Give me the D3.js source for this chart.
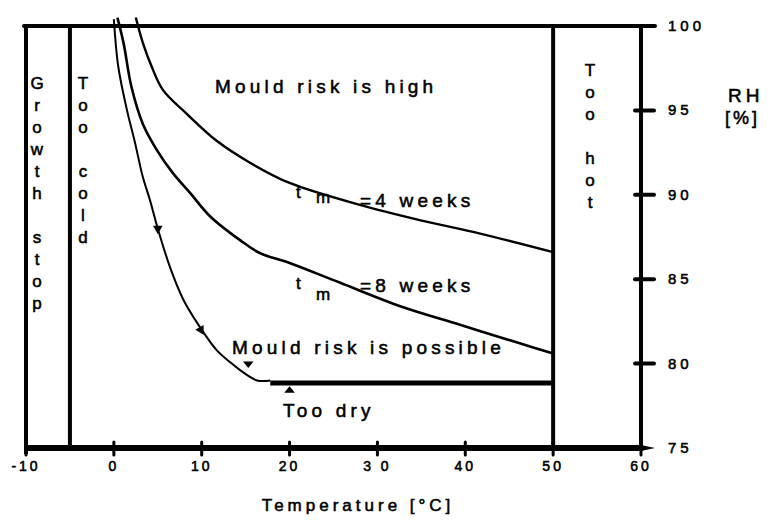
<!DOCTYPE html>
<html>
<head>
<meta charset="utf-8">
<script src="https://cdn.jsdelivr.net/npm/d3@7"></script>
<style>
  body { margin: 0; background: #fff; }
  svg text { font-family: "Liberation Sans", Arial, sans-serif; fill: #000; stroke: #000; stroke-width: 0.55px; }
</style>
</head>
<body>
<div id="chart"></div>
<script>
// isopleth curves, temperature [°C] vs RH [%]
const temp4w = [2.5, 3.3, 4.3, 5.6, 8.3, 11.7, 15.5, 20.0, 28.0, 34.8, 41.7, 50];
const rh4w   = [100.5, 99.0, 97.6, 96.2, 94.8, 93.2, 91.9, 90.7, 89.4, 88.5, 87.7, 86.6];

const temp8w = [0.4, 1.1, 2.0, 3.3, 4.9, 6.7, 8.7, 11.0, 14.4, 16.6, 20, 25.7, 32.6, 39.4, 46.2, 50];
const rh8w   = [100.5, 99.0, 96.4, 94.2, 92.65, 91.3, 90.1, 88.7, 87.3, 86.55, 85.96, 84.8, 83.4, 82.3, 81.2, 80.6];

const tempMin = [0, 0.5, 1.5, 2.4, 3.3, 4.1, 5.0, 6.4, 7.9, 9.5, 11.7, 13.2, 14.4, 16.3, 17.8];
const rhMin   = [100.4, 97.6, 95.0, 93.1, 91.05, 89.7, 88.0, 85.7, 83.8, 82.4, 80.8, 80.1, 79.6, 79.0, 79.0];

const dryTemp = [17.8, 50];
const dryRH = 78.85;

const zoneBounds = [-10, -5, 50, 60];
const xTicks = [-10, 0, 10, 20, 30, 40, 50, 60];
const xTickLabels = ["-10", "0", "10", "20", "3 0", "40", "50", "60"];
const yTicks = [75, 80, 85, 90, 95, 100];

const width = 771, height = 527;

const svg = d3.select("#chart").append("svg")
  .attr("width", width)
  .attr("height", height);

svg.append("rect").attr("width", width).attr("height", height).attr("fill", "#fff");

const x = d3.scaleLinear().domain([-10, 60]).range([26, 641]);
const y = d3.scaleLinear().domain([75, 100]).range([448, 26]);

// frame + zone boundaries
svg.append("line")
  .attr("x1", x(-10) - 2).attr("x2", x(60) + 14)
  .attr("y1", y(100)).attr("y2", y(100))
  .attr("stroke", "#000").attr("stroke-width", 4).attr("stroke-linecap", "round");

zoneBounds.forEach(t => {
  svg.append("line")
    .attr("x1", x(t)).attr("x2", x(t))
    .attr("y1", y(100)).attr("y2", y(75) + (t === -10 ? 6 : 0))
    .attr("stroke", "#000").attr("stroke-width", 4);
});

// bottom axis (thick)
svg.append("line")
  .attr("x1", x(-10) - 2).attr("x2", x(60) + 2)
  .attr("y1", y(75)).attr("y2", y(75))
  .attr("stroke", "#000").attr("stroke-width", 6);
svg.append("path")
  .attr("d", `M${x(60)},${y(75) - 3}L${x(60) + 14},${y(75)}L${x(60)},${y(75) + 3}Z`)
  .attr("fill", "#000");

svg.selectAll(".xtick").data(xTicks).enter().append("line")
  .attr("class", "xtick")
  .attr("x1", d => x(d)).attr("x2", d => x(d))
  .attr("y1", y(75) - 6).attr("y2", y(75) + 7)
  .attr("stroke", "#000").attr("stroke-width", 3).attr("stroke-linecap", "round");

svg.selectAll(".xlab").data(xTicks).enter().append("text")
  .attr("class", "xlab")
  .attr("x", d => x(d))
  .attr("y", y(75) + 23)
  .attr("text-anchor", "middle")
  .attr("font-size", 14)
  .attr("letter-spacing", 3)
  .text((d, i) => xTickLabels[i]);

// right axis ticks
svg.selectAll(".ytick").data(yTicks.filter(d => d > 75 && d < 100)).enter().append("line")
  .attr("class", "ytick")
  .attr("x1", x(60) - 6).attr("x2", x(60) + 13)
  .attr("y1", d => y(d)).attr("y2", d => y(d))
  .attr("stroke", "#000").attr("stroke-width", 4).attr("stroke-linecap", "round");

svg.selectAll(".ylab").data(yTicks).enter().append("text")
  .attr("class", "ylab")
  .attr("x", x(60) + 27)
  .attr("y", d => y(d) + 5)
  .attr("font-size", 15)
  .attr("letter-spacing", 4)
  .text(d => d);

svg.append("text").attr("x", 728).attr("y", 102)
  .attr("font-size", 19).attr("letter-spacing", 4).text("RH");
svg.append("text").attr("x", 725).attr("y", 124)
  .attr("font-size", 18).attr("letter-spacing", 3).text("[%]");

svg.append("text").attr("x", 358).attr("y", 511)
  .attr("text-anchor", "middle")
  .attr("font-size", 17).attr("letter-spacing", 4)
  .text("Temperature [°C]");

// vertical zone labels
function stacked(str, cx, top) {
  str.split("").forEach((ch, i) => {
    svg.append("text")
      .attr("x", cx).attr("y", top + i * 22)
      .attr("text-anchor", "middle")
      .attr("font-size", 17)
      .text(ch);
  });
}
stacked("Growth stop", 37, 89);
stacked("Too cold", 83, 89);
stacked("Too hot", 590, 76);

// curves
const line = d3.line()
  .x(d => x(d[0]))
  .y(d => y(d[1]))
  .curve(d3.curveCatmullRom.alpha(0.5));

svg.append("path").datum(d3.zip(temp4w, rh4w))
  .attr("d", line).attr("fill", "none").attr("stroke", "#000").attr("stroke-width", 2.4);
svg.append("path").datum(d3.zip(temp8w, rh8w))
  .attr("d", line).attr("fill", "none").attr("stroke", "#000").attr("stroke-width", 2.6);
svg.append("path").datum(d3.zip(tempMin, rhMin))
  .attr("d", line).attr("fill", "none").attr("stroke", "#000").attr("stroke-width", 2);

// too dry limit
svg.append("line")
  .attr("x1", x(dryTemp[0])).attr("x2", x(dryTemp[1]))
  .attr("y1", y(dryRH)).attr("y2", y(dryRH))
  .attr("stroke", "#000").attr("stroke-width", 5);

// markers
const tri = d3.symbol().type(d3.symbolTriangle).size(40);
[[5.0, 88.0, 180], [9.9, 82.0, 150]].forEach(([t, r, rot]) => {
  svg.append("path").attr("d", tri)
    .attr("transform", `translate(${x(t)},${y(r)}) rotate(${rot})`).attr("fill", "#000");
});
svg.append("path").attr("d", tri)
  .attr("transform", `translate(${x(15.3)},${y(80.0)}) rotate(180) scale(1.1,0.8)`).attr("fill", "#000");
svg.append("path").attr("d", tri)
  .attr("transform", `translate(${x(20)},${y(78.4)}) scale(1.1,0.8)`).attr("fill", "#000");

// annotations
const big = 19, ls = 4.2;
svg.append("text").attr("x", 215).attr("y", 93)
  .attr("font-size", big).attr("letter-spacing", ls).text("Mould risk is high");
svg.append("text").attr("x", 232).attr("y", 354)
  .attr("font-size", big).attr("letter-spacing", ls).text("Mould risk is possible");
svg.append("text").attr("x", 283).attr("y", 417)
  .attr("font-size", big).attr("letter-spacing", ls).text("Too dry");

[[207, "=4 weeks"], [292, "=8 weeks"]].forEach(([base, s], i) => {
  svg.append("text").attr("x", 296).attr("y", base - (i ? 3 : 9))
    .attr("font-size", 17).text("t");
  svg.append("text").attr("x", 316).attr("y", base + (i ? 8 : -4))
    .attr("font-size", 17).attr("letter-spacing", 1).text("m");
  svg.append("text").attr("x", 360).attr("y", base)
    .attr("font-size", big).attr("letter-spacing", ls).text(s);
});
</script>
</body>
</html>
